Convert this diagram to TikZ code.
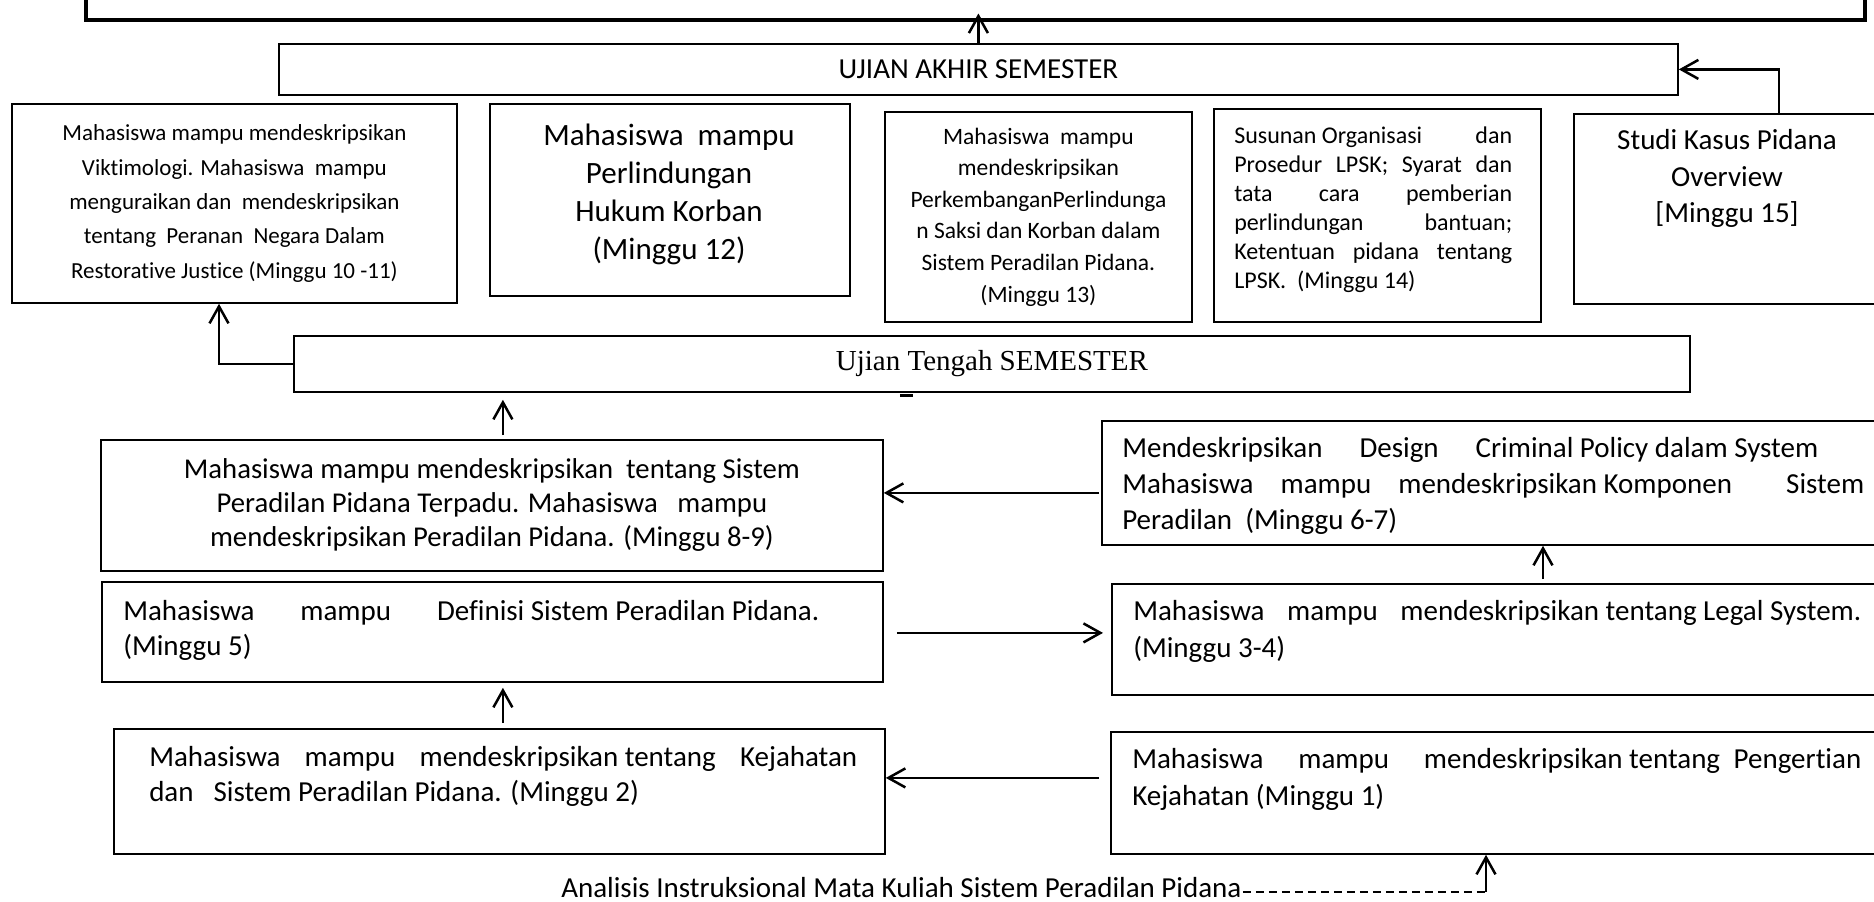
\documentclass[tikz,border=0pt]{standalone}
\usepackage{fontspec}
\setmainfont{Carlito}[Ligatures=NoCommon]
\newfontfamily\timesfont{Liberation Serif}
\usetikzlibrary{arrows.meta}

\begin{document}
\begin{tikzpicture}[x=1pt,y=-1pt,>={Straight Barb[length=17pt,width=19pt]},line width=2.5pt,
    box/.style={draw,line width=1.8pt,inner sep=0pt,anchor=north west},
    txt/.style={inner sep=0pt},
    big/.style={font=\fontsize{29}{35}\selectfont}]
  \useasboundingbox (0,0) rectangle (1874,902);
  \clip (0,0) rectangle (1874,902);

  % boxes
  \node[box,line width=3.5pt,minimum width=1779,minimum height=70] (top) at (84,-52) {};
  \node[box,minimum width=1399,minimum height=51,big] (uas) at (278,43) {UJIAN AKHIR SEMESTER};
  \node[box,minimum width=445,minimum height=199,align=center,font=\fontsize{23}{34.3}\selectfont] (m1011) at (11,103)
    {Mahasiswa mampu mendeskripsikan\\Viktimologi. Mahasiswa\ \ mampu\\menguraikan dan\ \ mendeskripsikan\\tentang\ \ Peranan\ \ Negara Dalam\\Restorative Justice (Minggu 10 -11)};
  \node[box,minimum width=360,minimum height=192] (m12) at (489,103) {};
  \node[box,minimum width=307,minimum height=210,align=center,font=\fontsize{23.5}{31.6}\selectfont] (m13) at (884,111)
    {Mahasiswa\ \ mampu\\mendeskripsikan\\PerkembanganPerlindunga\\n Saksi dan Korban dalam\\Sistem Peradilan Pidana.\\(Minggu 13)};
  \node[box,minimum width=327,minimum height=213] (m14) at (1213,108) {};
  \node[box,minimum width=320,minimum height=190] (m15) at (1573,113) {};
  \node[box,minimum width=1396,minimum height=56,font=\timesfont\fontsize{29}{35}\selectfont] (uts) at (293,335) {Ujian Tengah SEMESTER};
  \node[box,minimum width=782,minimum height=131,align=center,font=\fontsize{28.7}{34}\selectfont] (m89) at (100,439)
    {Mahasiswa mampu mendeskripsikan\ \ tentang Sistem\\Peradilan Pidana Terpadu. Mahasiswa\ \ \ mampu\\mendeskripsikan Peradilan Pidana. (Minggu 8-9)};
  \node[box,minimum width=790,minimum height=124] (m67) at (1101,420) {};
  \node[box,minimum width=781,minimum height=100] (m5) at (101,581) {};
  \node[box,minimum width=780,minimum height=111] (m34) at (1111,583) {};
  \node[box,minimum width=771,minimum height=125] (m2) at (113,728) {};
  \node[box,minimum width=780,minimum height=122] (m1) at (1110,731) {};

  % texts
  \node[txt,align=center,font=\fontsize{31}{38}\selectfont] (t12) at (669,194)
    {Mahasiswa\ \ mampu\\Perlindungan\\Hukum Korban\\(Minggu 12)};
  \node[txt,anchor=west,align=left,font=\fontsize{24}{29}\selectfont] (t14) at (1233,209.5)
    {\makebox[278pt][s]{Susunan Organisasi\hfill dan}\\
     \makebox[278pt][s]{Prosedur LPSK; Syarat dan}\\
     \makebox[278pt][s]{tata cara pemberian}\\
     \makebox[278pt][s]{perlindungan bantuan;}\\
     \makebox[278pt][s]{Ketentuan pidana tentang}\\
     LPSK.\ \ (Minggu 14)};
  \node[txt,align=center,font=\fontsize{29}{36.5}\selectfont] (t15) at (1727,178.5)
    {Studi Kasus Pidana\\Overview\\{}[Minggu 15]};
  \node[txt,anchor=west,align=left,font=\fontsize{29}{36}\selectfont] (t67) at (1121,486)
    {\makebox[696pt][s]{Mendeskripsikan\hfill Design\hfill Criminal Policy dalam System}\\
     \makebox[742pt][s]{Mahasiswa\hfill mampu\hfill mendeskripsikan Komponen\hfill\hfill Sistem}\\
     Peradilan\ \ (Minggu 6-7)};
  \node[txt,anchor=west,align=left,font=\fontsize{29}{35}\selectfont] (t5) at (122,630)
    {\makebox[696pt][s]{Mahasiswa\hfill mampu\hfill Definisi Sistem Peradilan Pidana.}\\
     (Minggu 5)};
  \node[txt,anchor=west,align=left,font=\fontsize{29}{37}\selectfont] (t34) at (1132,631)
    {\makebox[728pt][s]{Mahasiswa\hfill mampu\hfill mendeskripsikan tentang Legal System.}\\
     (Minggu 3-4)};
  \node[txt,anchor=west,align=left,font=\fontsize{29}{35}\selectfont] (t2) at (148,776)
    {\makebox[708pt][s]{Mahasiswa\hfill mampu\hfill mendeskripsikan tentang\hfill Kejahatan}\\
     dan\hspace{20pt}Sistem Peradilan Pidana. (Minggu 2)};
  \node[txt,anchor=west,align=left,font=\fontsize{29}{37}\selectfont] (t1) at (1131,779)
    {\makebox[729pt][s]{Mahasiswa\hfill mampu\hfill mendeskripsikan tentang\hspace{7pt} Pengertian}\\
     Kejahatan (Minggu 1)};
  \node[txt,anchor=base west,big] (ai) at (560,897)
    {Analisis Instruksional Mata Kuliah Sistem Peradilan Pidana};
  \coordinate (k) at (1486,892);

  % connectors
  \draw[->] (uas.north) -- ([yshift=8pt]uas.north |- top.south);
  \draw[->] ([xshift=206pt]m15.north west) |- (uas.east);
  \draw[->] (uts.west) -| ([xshift=208pt]m1011.south west);
  \draw[->,shorten <=4pt,shorten >=7pt] ([xshift=11pt]m89.north) -- ([xshift=11pt]m89.north |- uts.south);
  \draw[->,shorten <=2pt] ([yshift=-10pt]m67.west) -- ([yshift=-10pt]m67.west -| m89.east);
  \draw[->,shorten <=4pt] ([xshift=432pt]m34.north west) -- ([xshift=432pt]m34.north west |- m67.south);
  \draw[->,shorten <=13pt,shorten >=8pt] ([yshift=-1pt]m5.east) -- ([yshift=-1pt]m5.east -| m34.west);
  \draw[->,shorten <=5pt,shorten >=5pt] ([xshift=3.5pt]m2.north) -- ([xshift=3.5pt]m2.north |- m5.south);
  \draw[->,shorten <=11pt] ([yshift=15pt]m1.west) -- ([yshift=15pt]m1.west -| m2.east);
  \draw[line width=2pt,dash pattern=on 8pt off 5pt] (ai.east |- k) -- (k);
  \draw[->] (k) -- (k |- m1.south);
  \draw[line width=3pt] ([xshift=-92pt,yshift=-3pt]uts.south) -- ++(13,0);
\end{tikzpicture}
\end{document}
